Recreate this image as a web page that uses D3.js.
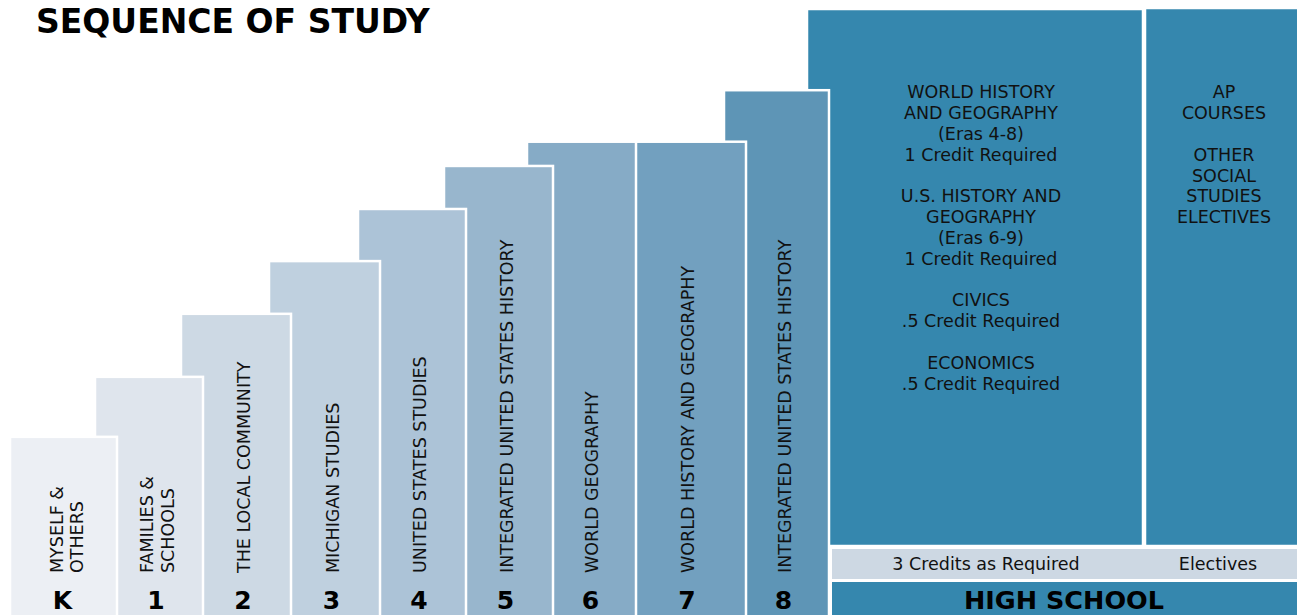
<!DOCTYPE html>
<html>
<head>
<meta charset="utf-8">
<script src="https://cdn.jsdelivr.net/npm/d3@7"></script>
<style>
  body { margin: 0; background: #fff; }
  svg { display: block; font-family: "DejaVu Sans", Verdana, sans-serif; }
</style>
</head>
<body>
<svg id="chart" width="1297" height="615"></svg>
<script>
// grades K-8 and the course for each one
const grades = ["K", "1", "2", "3", "4", "5", "6", "7", "8"];
const courses = [
    ["MYSELF &", "OTHERS"],
    ["FAMILIES &", "SCHOOLS"],
    ["THE LOCAL COMMUNITY"],
    ["MICHIGAN STUDIES"],
    ["UNITED STATES STUDIES"],
    ["INTEGRATED UNITED STATES HISTORY"],
    ["WORLD GEOGRAPHY"],
    ["WORLD HISTORY AND GEOGRAPHY"],
    ["INTEGRATED UNITED STATES HISTORY"]
];
// step height of each grade (high school = 100)
const stepLevels = [29.4, 39.3, 49.7, 58.4, 67.0, 74.1, 78.1, 78.1, 86.6];
const stepColors = ["#eceff4", "#dfe5ed", "#cdd9e4", "#bfd0df", "#acc3d7",
                    "#98b6cd", "#86abc6", "#72a0bf", "#5e95b6"];

const hsLevel = 100;
const hsRequired = [
    "WORLD HISTORY", "AND GEOGRAPHY", "(Eras 4-8)", "1 Credit Required", "",
    "U.S. HISTORY AND", "GEOGRAPHY", "(Eras 6-9)", "1 Credit Required", "",
    "CIVICS", ".5 Credit Required", "",
    "ECONOMICS", ".5 Credit Required"
];
const hsElectives = ["AP", "COURSES", "", "OTHER", "SOCIAL", "STUDIES", "ELECTIVES"];
const hsBand = ["3 Credits as Required", "Electives"];

const svg = d3.select("#chart");
const hsColor = "#3587ae", bandColor = "#cdd8e3", ink = "#111";

const bottom = 615;
const y = d3.scaleLinear().domain([0, hsLevel]).range([bottom, 9]);
// right edge of each grade column
const xRight = d3.scaleOrdinal()
    .domain(grades.concat(["HS", "AP"]))
    .range([117, 203, 291, 380, 466, 553, 636, 746, 829, 1143, 1299]);
const overhang = 22;
const xLeft = (g, i) => i === 0 ? 10 : xRight(grades[i - 1]) - overhang - (i === 6 ? 4 : 0);
const xMid = (g, i) => ((i === 0 ? 10 : xRight(grades[i - 1]) + 2) + xRight(g)) / 2 - (i === 0 ? 1 : 5);

svg.append("text")
   .attr("x", 36).attr("y", 33)
   .attr("font-size", 33).attr("font-weight", "bold")
   .attr("fill", "#000")
   .text("SEQUENCE OF STUDY");

// high school blocks (drawn first, steps overlap them)
const bandTop = 548, bandBot = 580;
svg.append("rect")
   .attr("x", xRight("8") - overhang).attr("y", y(hsLevel))
   .attr("width", xRight("HS") - xRight("8") + overhang).attr("height", bandTop - 2 - y(hsLevel))
   .attr("fill", hsColor).attr("stroke", "#fff").attr("stroke-width", 2.5);
svg.append("rect")
   .attr("x", xRight("HS") + 2).attr("y", y(hsLevel) - 1)
   .attr("width", xRight("AP") - xRight("HS")).attr("height", bandTop - 2 - y(hsLevel) + 1)
   .attr("fill", hsColor).attr("stroke", "#fff").attr("stroke-width", 2.5);

// grade columns, last one first
const steps = grades.map((g, i) => ({g, i, level: stepLevels[i], color: stepColors[i], lines: courses[i]}));
svg.selectAll(".step")
   .data(steps.slice().reverse())
   .enter().append("rect")
   .attr("class", "step")
   .attr("x", d => xLeft(d.g, d.i))
   .attr("y", d => y(d.level))
   .attr("width", d => xRight(d.g) - xLeft(d.g, d.i))
   .attr("height", d => bottom + 10 - y(d.level))
   .attr("fill", d => d.color)
   .attr("stroke", "#fff").attr("stroke-width", 2.5);

// vertical course names
steps.forEach(d => {
    const cx = xMid(d.g, d.i) + (d.i === 0 ? 4 : 1);
    const n = d.lines.length;
    d.lines.forEach((line, k) => {
        const lx = cx + (k - (n - 1) / 2) * 20.5;
        svg.append("text")
           .attr("transform", `translate(${lx},573) rotate(-90)`)
           .attr("dy", "0.36em")
           .attr("font-size", 17.5).attr("fill", ink)
           .text(line);
    });
});

svg.selectAll(".grade")
   .data(steps)
   .enter().append("text")
   .attr("class", "grade")
   .attr("x", d => xMid(d.g, d.i))
   .attr("y", 609)
   .attr("text-anchor", "middle")
   .attr("font-size", 25).attr("font-weight", "bold").attr("fill", "#000")
   .text(d => d.g);

// high school text
const lineStep = 20.8;
const hsLeft = xRight("8") + 2;
svg.selectAll(".req")
   .data(hsRequired)
   .enter().append("text")
   .attr("x", 981)
   .attr("y", (d, i) => 92 + i * lineStep)
   .attr("dy", "0.36em")
   .attr("text-anchor", "middle")
   .attr("font-size", 17.5).attr("fill", ink)
   .text(d => d);
svg.selectAll(".elec")
   .data(hsElectives)
   .enter().append("text")
   .attr("x", 1224)
   .attr("y", (d, i) => 92 + i * lineStep)
   .attr("dy", "0.36em")
   .attr("text-anchor", "middle")
   .attr("font-size", 17.5).attr("fill", ink)
   .text(d => d);

svg.append("rect")
   .attr("x", hsLeft).attr("y", bandTop)
   .attr("width", 1297 - hsLeft + 5).attr("height", bandBot - bandTop)
   .attr("fill", bandColor).attr("stroke", "#fff").attr("stroke-width", 2);
svg.selectAll(".band")
   .data(hsBand)
   .enter().append("text")
   .attr("x", (d, i) => i === 0 ? 986 : 1218)
   .attr("y", (bandTop + bandBot) / 2)
   .attr("dy", "0.36em")
   .attr("text-anchor", "middle")
   .attr("font-size", 17.5).attr("fill", ink)
   .text(d => d);

svg.append("rect")
   .attr("x", hsLeft).attr("y", bandBot + 1)
   .attr("width", 1297 - hsLeft + 5).attr("height", bottom - bandBot + 5)
   .attr("fill", hsColor).attr("stroke", "#fff").attr("stroke-width", 2);
svg.append("text")
   .attr("x", 1064).attr("y", 609)
   .attr("text-anchor", "middle")
   .attr("font-size", 25.5).attr("font-weight", "bold").attr("fill", "#000")
   .text("HIGH SCHOOL");
</script>
</body>
</html>
